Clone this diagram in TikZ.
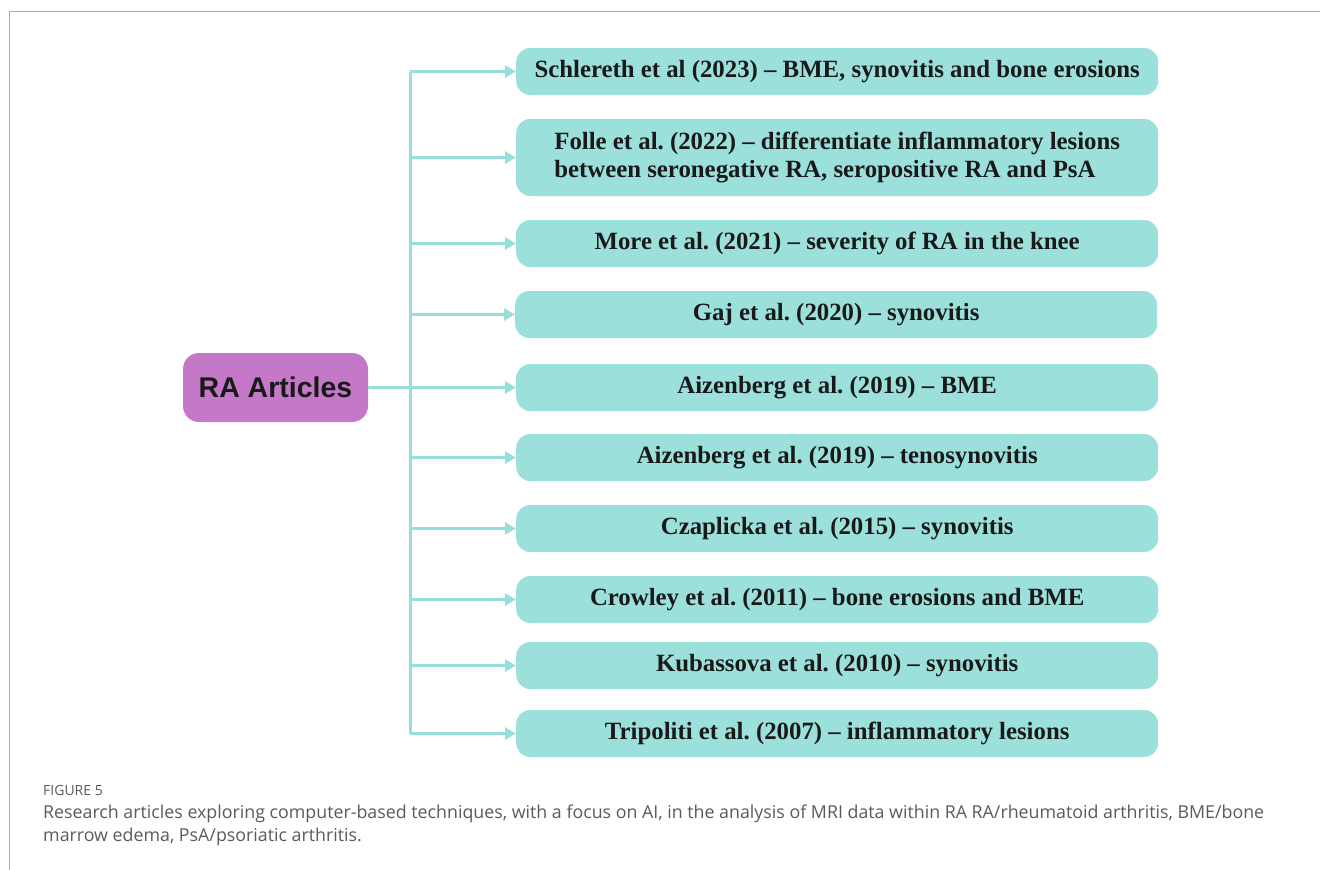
\documentclass[tikz,border=0pt]{standalone}
\usepackage{fontspec}
\setmainfont{Liberation Serif}
\newfontfamily\headfont{Liberation Sans}
\newfontfamily\capfont{Open Sans}
\usetikzlibrary{arrows.meta}
\definecolor{boxcyan}{HTML}{9CE0DC}
\definecolor{linkcyan}{HTML}{98DEDA}
\definecolor{rootpurple}{HTML}{C678C8}
\definecolor{framegray}{HTML}{ABABAB}
\definecolor{capgray}{HTML}{5A5A5A}
\tikzset{
  article/.style={fill=boxcyan, rounded corners=14pt, minimum width=642pt,
    minimum height=47pt, inner sep=0pt, font=\fontsize{24.8}{28}\selectfont\bfseries,
    text=black!90, anchor=west},
  root/.style={fill=rootpurple, rounded corners=16pt, minimum width=185pt,
    minimum height=69pt, inner sep=0pt, font=\headfont\fontsize{28.5}{32}\selectfont\bfseries,
    text=black!90},
  link/.style={draw=linkcyan, line width=3pt},
  linkarrow/.style={link, -{Triangle[length=11pt,width=12pt]}},
}
\begin{document}
\frenchspacing
\begin{tikzpicture}[x=1pt,y=-1pt]
\useasboundingbox (0,0) rectangle (1320,870);
% page frame
\draw[framegray, line width=1.8pt] (9.5,870) -- (9.5,11.5) -- (1320,11.5);

% root node
\node[root] (ra) at (275.5,387.5) {RA Articles};

% article boxes
\node[article] (b1) at (516,71.5) {Schlereth et al (2023) -- BME, synovitis and bone erosions};
\node[article, minimum height=77pt] (b2) at (516,157.5)
  {\begin{tabular}{@{}l@{}}Folle et al. (2022) -- differentiate inflammatory lesions\\
   between seronegative RA, seropositive RA and PsA\end{tabular}};
\node[article] (b3) at (516,243.5) {More et al. (2021) -- severity of RA in the knee};
\node[article] (b4) at (515,314.5) {Gaj et al. (2020) -- synovitis};
\node[article] (b5) at (516,387.5) {Aizenberg et al. (2019) -- BME};
\node[article] (b6) at (516,457.5) {Aizenberg et al. (2019) -- tenosynovitis};
\node[article] (b7) at (516,528.5) {Czaplicka et al. (2015) -- synovitis};
\node[article] (b8) at (516,599.5) {Crowley et al. (2011) -- bone erosions and BME};
\node[article] (b9) at (516,665.5) {Kubassova et al. (2010) -- synovitis};
\node[article] (b10) at (516,733.5) {Tripoliti et al. (2007) -- inflammatory lesions};

% connectors
\coordinate (trunk) at (410,0);
\draw[link] (b1.west -| trunk) -- (b10.west -| trunk);
\draw[link] (ra.east) -- (ra.east -| trunk);
\foreach \b in {b1,b2,b3,b4,b5,b6,b7,b8,b9,b10}
  \draw[linkarrow] (\b.west -| trunk) -- (\b.west);

% caption
\node[anchor=base west, inner sep=0pt, text=capgray, font=\capfont\fontsize{14}{16}\selectfont]
  (fig) at (43,795) {FIGURE 5};
\node[anchor=base west, inner sep=0pt, text=capgray, align=left,
  font=\capfont\fontsize{17.8}{23}\selectfont] (cap) at (43,841)
  {Research articles exploring computer-based techniques, with a focus on AI, in the analysis of MRI data within RA RA/rheumatoid arthritis, BME/bone\\
   marrow edema, PsA/psoriatic arthritis.};
\end{tikzpicture}
\end{document}
